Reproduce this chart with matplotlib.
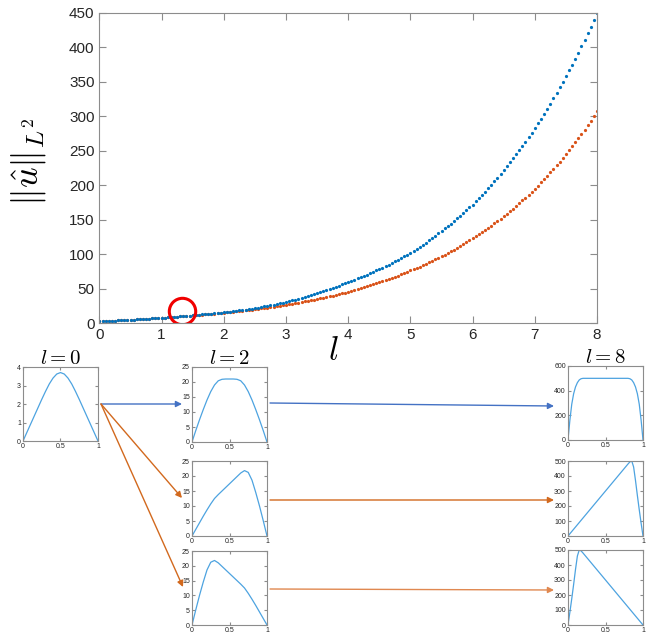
import numpy as np
import matplotlib
matplotlib.use('Agg')
import matplotlib.pyplot as plt

plt.rcParams['font.family'] = ['Liberation Sans', 'DejaVu Sans']
plt.rcParams['mathtext.fontset'] = 'cm'

# --- curva principal: norma L2 em funcao de l (passo 0.05) ---
l_vals = np.round(np.arange(0, 8.0001, 0.05), 2)

norma_azul = [
    2.6, 2.84, 3.08, 3.32, 3.56, 3.8, 4.04, 4.28, 4.52, 4.76,
    5.0, 5.28, 5.56, 5.84, 6.12, 6.4, 6.68, 6.96, 7.24, 7.52,
    7.8, 8.16, 8.52, 8.88, 9.24, 9.6, 9.96, 10.32, 10.68, 11.04,
    11.4, 11.84, 12.28, 12.72, 13.16, 13.6, 14.04, 14.48, 14.92, 15.36,
    15.8, 16.32, 16.85, 17.40, 17.97, 18.56, 19.17, 19.79, 20.44, 21.11,
    21.8, 22.58, 23.39, 24.23, 25.10, 26.00, 26.93, 27.89, 28.89, 29.92,
    31.0, 32.07, 33.18, 34.32, 35.51, 36.73, 38.00, 39.31, 40.67, 42.07,
    43.5, 44.92, 46.39, 47.91, 49.48, 51.10, 52.77, 54.49, 56.27, 58.11,
    60.0, 61.64, 63.32, 65.05, 66.83, 68.65, 70.53, 72.45, 74.43, 76.46,
    78.5, 80.58, 82.72, 84.91, 87.16, 89.47, 91.84, 94.27, 96.77, 99.33,
    102.0, 104.8, 107.7, 110.7, 113.8, 116.9, 120.2, 123.5, 126.9, 130.4,
    134.0, 137.4, 140.9, 144.4, 148.1, 151.8, 155.7, 159.6, 163.7, 167.8,
    172.0, 176.4, 181.0, 185.7, 190.5, 195.4, 200.4, 205.6, 210.9, 216.4,
    222.0, 227.5, 233.0, 238.8, 244.6, 250.7, 256.8, 263.1, 269.6, 276.3,
    283.0, 289.7, 296.6, 303.7, 310.9, 318.3, 325.9, 333.6, 341.6, 349.7,
    358.0, 366.3, 374.7, 383.4, 392.2, 401.3, 410.5, 420.0, 429.7, 439.6,
    450.0,
]

norma_laranja = [
    2.6, 2.84, 3.08, 3.32, 3.56, 3.8, 4.04, 4.28, 4.52, 4.76,
    5.0, 5.28, 5.56, 5.84, 6.12, 6.4, 6.68, 6.96, 7.24, 7.52,
    7.8, 8.16, 8.52, 8.88, 9.24, 9.6, 9.95, 10.28, 10.6, 10.95,
    11.3, 11.69, 12.08, 12.47, 12.86, 13.25, 13.64, 14.03, 14.42, 14.81,
    15.2, 15.64, 16.09, 16.56, 17.04, 17.53, 18.04, 18.56, 19.09, 19.65,
    20.2, 20.78, 21.38, 21.99, 22.62, 23.27, 23.94, 24.63, 25.34, 26.06,
    26.8, 27.53, 28.27, 29.04, 29.82, 30.63, 31.46, 32.31, 33.19, 34.09,
    35.0, 35.95, 36.92, 37.91, 38.94, 39.99, 41.07, 42.18, 43.32, 44.49,
    45.7, 46.89, 48.12, 49.37, 50.66, 51.98, 53.34, 54.73, 56.16, 57.62,
    59.1, 60.65, 62.24, 63.87, 65.54, 67.25, 69.01, 70.82, 72.67, 74.57,
    76.5, 78.34, 80.22, 82.14, 84.11, 86.13, 88.20, 90.32, 92.49, 94.71,
    97.0, 99.33, 101.7, 104.2, 106.6, 109.2, 111.8, 114.5, 117.3, 120.1,
    123.0, 125.9, 128.8, 131.8, 134.9, 138.1, 141.3, 144.6, 148.0, 151.5,
    155.0, 158.6, 162.3, 166.0, 169.9, 173.8, 177.9, 182.0, 186.2, 190.5,
    195.0, 199.5, 204.1, 208.8, 213.7, 218.6, 223.7, 228.8, 234.1, 239.5,
    245.0, 250.6, 256.3, 262.2, 268.1, 274.3, 280.5, 286.9, 293.5, 300.2,
    307.0,
]

# ponto de bifurcacao destacado
bif_l, bif_norma = 1.33, 18

# --- perfis u(x) ---
x20 = np.round(np.arange(0, 1.0001, 0.05), 2)
x40 = np.round(np.arange(0, 1.0001, 0.025), 3)

u_l0 = [0, 0.45, 0.9, 1.35, 1.8, 2.25, 2.68, 3.08, 3.4, 3.62, 3.7,
        3.62, 3.4, 3.08, 2.68, 2.25, 1.8, 1.35, 0.9, 0.45, 0]

u_l2_sim = [0, 3.8, 7.4, 10.8, 14.0, 16.8, 19.0, 20.4, 20.9, 21.0, 21.0,
            21.0, 20.9, 20.4, 19.0, 16.8, 14.0, 10.8, 7.4, 3.8, 0]
u_l2_dir = [0, 2.2, 4.4, 6.6, 8.7, 10.7, 12.5, 13.8, 15.0, 16.2, 17.4,
            18.6, 19.8, 21.0, 21.8, 21.2, 18.6, 14.5, 10.0, 5.1, 0]
u_l2_esq = u_l2_dir[::-1]

u_l8_sim = [0, 160, 290, 375, 430, 465, 487, 497, 500, 500,
            500, 500, 500, 500, 500, 500, 500, 500, 500, 500,
            500, 500, 500, 500, 500, 500, 500, 500, 500, 500,
            500, 500, 500, 497, 487, 465, 430, 375, 290, 160, 0]
u_l8_dir = [0, 15, 30, 45, 60, 75, 90, 105, 120, 135,
            150, 165, 180, 195, 210, 225, 240, 255, 270, 285,
            300, 315, 330, 345, 360, 375, 390, 405, 420, 435,
            450, 465, 480, 494, 500, 460, 370, 270, 175, 85, 0]
u_l8_esq = u_l8_dir[::-1]

W, H = 665, 635
fig = plt.figure(figsize=(W / 100, H / 100), dpi=100)


def eixo_px(x0, y0, x1, y1):
    return fig.add_axes([x0 / W, 1 - y1 / H, (x1 - x0) / W, (y1 - y0) / H])


def estilo(ax, fs):
    for s in ax.spines.values():
        s.set_color('#8c8c8c')
        s.set_linewidth(0.8)
    ax.tick_params(direction='in', top=True, right=True, labelsize=fs,
                   colors='#8c8c8c', labelcolor='#262626', width=0.8)


# grafico principal
ax = eixo_px(99.4, 12.7, 597, 323.2)
ax.plot(l_vals, norma_laranja, 'o', ms=2.3, mew=0, color='#D95319')
ax.plot(l_vals, norma_azul, 'o', ms=2.3, mew=0, color='#0072BD')
ax.plot([bif_l], [bif_norma], 'o', ms=19, mfc='none', mec='#f00000', mew=2.2)
ax.set_xlim(0, 8)
ax.set_ylim(0, 450)
ax.set_xticks(range(0, 9))
ax.set_yticks(range(0, 451, 50))
estilo(ax, 11)
ax.tick_params(length=5)
fig.text(28 / W, 1 - 162 / H, r'$\|\hat{u}\|_{L^2}$', fontsize=26,
         rotation=90, ha='center', va='center')
fig.text(333 / W, 1 - 352 / H, r'$l$', fontsize=24, ha='center', va='center')

cor_perfil = '#4DA3E0'


def painel(box, x, u, ymax, passo, titulo=None):
    a = eixo_px(*box)
    a.plot(x, u, color=cor_perfil, lw=0.9)
    a.set_xlim(0, 1)
    a.set_ylim(0, ymax)
    a.set_xticks([0, 0.5, 1])
    a.set_xticklabels(['0', '0.5', '1'])
    a.set_yticks(np.arange(0, ymax + 0.1, passo))
    estilo(a, 5)
    a.tick_params(length=2, pad=1.5)
    if titulo:
        a.set_title(titulo, fontsize=15, pad=2)
    return a


painel((23, 367, 98, 441), x20, u_l0, 4, 1, r'$l=0$')
painel((192, 367, 267, 442), x20, u_l2_sim, 25, 5, r'$l=2$')
painel((192, 461, 267, 536), x20, u_l2_dir, 25, 5)
painel((192, 551, 267, 625), x20, u_l2_esq, 25, 5)
painel((568, 366, 643, 440), x40, u_l8_sim, 600, 200, r'$l=8$')
painel((568, 461, 643, 536), x40, u_l8_dir, 500, 100)
painel((568, 550, 643, 625), x40, u_l8_esq, 500, 100)

# setas entre os paineis
ov = fig.add_axes([0, 0, 1, 1], zorder=-1)
ov.set_xlim(0, W)
ov.set_ylim(H, 0)
ov.axis('off')
setas = [
    ((101, 404), (182, 404), '#4472C4'),
    ((270, 403), (554, 406), '#4472C4'),
    ((101, 404), (182, 498), '#D2691E'),
    ((101, 404), (183, 587), '#D2691E'),
    ((270, 500), (554, 500), '#D2691E'),
    ((270, 589), (554, 590), '#E08850'),
]
for (p0, p1, c) in setas:
    ov.annotate('', xy=p1, xytext=p0,
                arrowprops=dict(arrowstyle='-|>', color=c, lw=1.0,
                                mutation_scale=9, shrinkA=0, shrinkB=0))

fig.savefig('out.png', dpi=100)
